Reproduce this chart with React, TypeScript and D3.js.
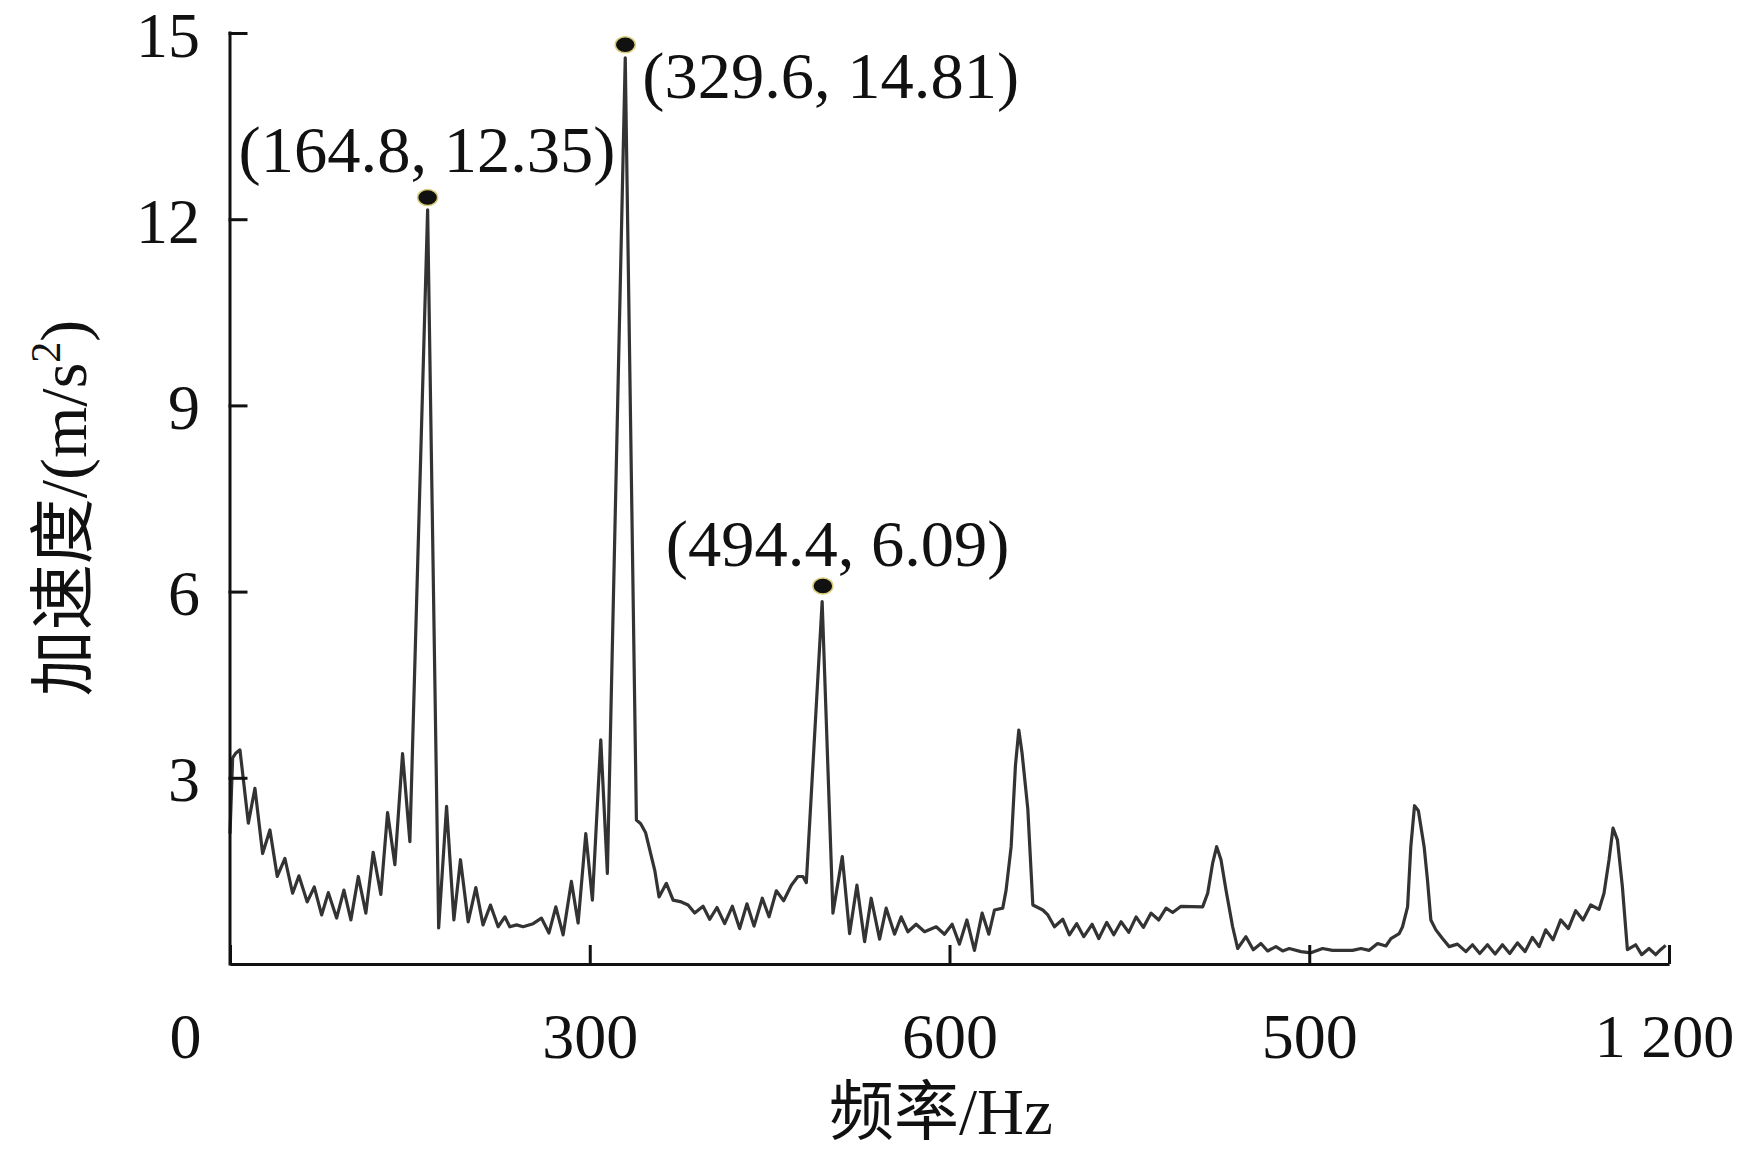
import React, { useRef, useEffect } from 'react';
import * as d3 from 'd3';

// ---- data ----
const freqHz: number[] = [
  0, 2.2, 5, 8.3, 15.3, 20.8, 27.2, 33.3, 39.4, 45.8, 52.2, 57.5, 64.4, 70.3, 76.4, 82.0, 88.9, 95.0,
  100.8, 107.0, 113.3, 119.4, 125.8, 131.4, 137.5, 143.9, 150.0,
  164.8, 174.0,
  180.6, 186.7, 192.2, 198.6, 205.0, 211.0, 217.2, 223.6, 229.2, 233.3, 239, 244.4, 252.8, 259.7,
  266.0, 271.7, 277.8, 284.7, 290.3, 296.7, 302.2, 309.2, 314.7,
  329.6, 338.9,
  342.5, 346.5, 354.2, 357.8, 363.9, 369.5, 376.4, 382, 387.5, 394.5, 400, 406.1, 412.5, 418.9, 425,
  431.1, 437, 443.9, 449.5, 455.6, 461.7, 468.1, 473.6, 477.8, 480.6,
  493.8, 502.8,
  510.6, 516.7, 522.8, 529.2, 534.7, 541.7, 547.2, 554.2, 559.7, 565.3, 572.2, 579.2, 588.9, 595.8,
  602.2, 608.3, 614.5, 620.8, 627.2, 632.8, 637.5, 644.4, 647.2, 651.4,
  655, 657.8, 660.5, 665.3, 669.5,
  677.8, 682, 687.5, 694.5, 700, 706.1, 712, 718.9, 724.5, 731.1, 737, 743.1, 749.5, 755.6, 761.7,
  768.1, 774.5, 780.6, 786.1, 793.1, 811.1,
  815.3, 819.4, 822.8, 826.4, 830.6, 836.1, 840.3,
  847.2, 853.3, 859.7, 865.3, 872.2, 877.8, 883.3, 893.1, 901.4, 911.1, 919.4, 936.1, 943.1, 950,
  957, 963.9, 968.1, 975, 977.8, 982, 984.7,
  987.8, 991, 995.8, 998.6, 1001.4,
  1005.6, 1011.1, 1016.7, 1023.6, 1030.6, 1036.1, 1042.2, 1048.6, 1055, 1061.1, 1067.2, 1073.6,
  1080, 1086.1, 1091.7, 1097.2, 1103.3, 1109.7, 1116.1, 1122.2, 1128.3, 1134.7, 1141.7, 1145.8, 1150,
  1153.3, 1157, 1161.1, 1165.3,
  1172.2, 1177.2, 1183.3, 1188.9, 1193, 1197.2,
];

const accel: number[] = [
  2.10, 3.32, 3.40, 3.45, 2.27, 2.83, 1.78, 2.16, 1.41, 1.70, 1.14, 1.42, 1.00, 1.24, 0.79, 1.15, 0.74, 1.19,
  0.71, 1.41, 0.82, 1.80, 1.12, 2.44, 1.60, 3.39, 1.97,
  12.15, 0.58,
  2.54, 0.71, 1.68, 0.68, 1.23, 0.63, 0.95, 0.60, 0.76, 0.60, 0.63, 0.60, 0.65, 0.74,
  0.50, 0.92, 0.47, 1.33, 0.66, 2.10, 1.03, 3.61, 1.46,
  14.6, 2.32,
  2.26, 2.12, 1.51, 1.08, 1.30, 1.03, 1.00, 0.95, 0.82, 0.93, 0.72, 0.91, 0.65, 0.93, 0.57,
  0.97, 0.61, 1.06, 0.76, 1.18, 1.02, 1.27, 1.41, 1.41, 1.31,
  5.84, 0.82,
  1.73, 0.49, 1.27, 0.36, 1.06, 0.40, 0.90, 0.48, 0.76, 0.52, 0.64, 0.52, 0.60, 0.48,
  0.64, 0.32, 0.71, 0.22, 0.82, 0.48, 0.87, 0.90, 1.19, 1.89,
  3.2, 3.77, 3.4, 2.5, 0.95,
  0.87, 0.79, 0.60, 0.72, 0.47, 0.65, 0.44, 0.64, 0.41, 0.67, 0.47, 0.68, 0.51, 0.76, 0.59,
  0.82, 0.71, 0.90, 0.83, 0.93, 0.92,
  1.14, 1.62, 1.89, 1.68, 1.19, 0.60, 0.25,
  0.44, 0.23, 0.33, 0.21, 0.28, 0.21, 0.25, 0.20, 0.18, 0.25, 0.22, 0.22, 0.25, 0.22,
  0.33, 0.29, 0.41, 0.49, 0.60, 0.92, 1.89,
  2.55, 2.47, 1.89, 1.35, 0.71,
  0.55, 0.41, 0.28, 0.32, 0.20, 0.31, 0.17, 0.31, 0.16, 0.31, 0.17, 0.34,
  0.20, 0.43, 0.28, 0.55, 0.39, 0.71, 0.57, 0.86, 0.71, 0.95, 0.88, 1.14, 1.68,
  2.19, 2.00, 1.25, 0.23,
  0.31, 0.15, 0.25, 0.15, 0.23, 0.30,
];

const yTickValues: number[] = [3, 6, 9, 12, 15];
const xTickValues: number[] = [0, 300, 600, 900, 1200];
const xTickLabels: string[] = ['0', '300', '600', '500', '1 200'];

const peakFreq: number[] = [164.8, 329.6, 494.4];
const peakAccel: number[] = [12.35, 14.81, 6.09];
const peakLabels: string[] = ['(164.8, 12.35)', '(329.6, 14.81)', '(494.4, 6.09)'];

// layout of the peak labels relative to their dots (px)
const peakLabelOffset: [number, number][] = [[-189, -25], [17, 53], [-157, -20]];

const FONT = "'Liberation Serif', 'Times New Roman', 'Noto Sans CJK SC', serif";

export default function App() {
  const ref = useRef<SVGSVGElement | null>(null);

  useEffect(() => {
    const W = 1741;
    const H = 1156;
    const svg = d3.select(ref.current as SVGSVGElement);
    svg.selectAll('*').remove();

    const x = d3.scaleLinear().domain([0, 1200]).range([230, 1669]);
    const y = d3.scaleLinear().domain([0, 15]).range([964, 33]);

    svg.append('rect').attr('width', W).attr('height', H).attr('fill', '#ffffff');

    // spectrum line
    const pts: [number, number][] = freqHz.map((f, i) => [f, accel[i]]);
    const line = d3
      .line<[number, number]>()
      .x((d) => x(d[0]))
      .y((d) => y(d[1]));
    svg
      .append('path')
      .datum(pts)
      .attr('d', line)
      .attr('fill', 'none')
      .attr('stroke', '#333333')
      .attr('stroke-width', 3.2)
      .attr('stroke-linejoin', 'round');

    // x axis
    const gx = svg
      .append('g')
      .attr('transform', 'translate(0,964)')
      .call(
        d3
          .axisBottom(x)
          .tickValues(xTickValues)
          .tickFormat((_d, i) => xTickLabels[i])
          .tickSizeInner(-19)
          .tickSizeOuter(0)
          .tickPadding(49)
      );
    gx.selectAll('path, line').attr('stroke', '#111').attr('stroke-width', 3);
    gx.selectAll('text')
      .attr('font-size', 64)
      .attr('font-family', FONT)
      .attr('fill', '#111');
    gx.selectAll('.tick')
      .filter((d) => d === 0)
      .select('text')
      .attr('x', -45);
    gx.selectAll('.tick')
      .filter((d) => d === 1200)
      .select('text')
      .attr('x', -5)
      .attr('font-size', 62);

    // y axis
    const gy = svg
      .append('g')
      .attr('transform', 'translate(230,0)')
      .call(
        d3
          .axisLeft(y)
          .tickValues(yTickValues)
          .tickSizeInner(-16)
          .tickSizeOuter(0)
          .tickPadding(30)
      );
    gy.select('.domain').attr('d', `M0,${y(0)}V${y(15)}`);
    gy.selectAll('path, line').attr('stroke', '#111').attr('stroke-width', 3).attr('stroke-linecap', 'square');
    gy.selectAll('text')
      .attr('font-size', 64)
      .attr('font-family', FONT)
      .attr('fill', '#111')
      .attr('dy', '0.36em');

    // peak markers
    svg
      .selectAll('ellipse.peak')
      .data(peakFreq)
      .join('ellipse')
      .attr('class', 'peak')
      .attr('cx', (d) => x(d))
      .attr('cy', (_d, i) => y(peakAccel[i]))
      .attr('rx', 10)
      .attr('ry', 8)
      .attr('fill', '#111')
      .attr('stroke', '#d8cd78')
      .attr('stroke-width', 1.5);

    svg
      .selectAll('text.peaklabel')
      .data(peakFreq)
      .join('text')
      .attr('class', 'peaklabel')
      .attr('x', (d, i) => x(d) + peakLabelOffset[i][0])
      .attr('y', (_d, i) => y(peakAccel[i]) + peakLabelOffset[i][1])
      .attr('font-size', 66.5)
      .attr('font-family', FONT)
      .attr('fill', '#111')
      .text((_d, i) => peakLabels[i]);

    // axis titles
    svg
      .append('text')
      .attr('x', 941)
      .attr('y', 1134)
      .attr('text-anchor', 'middle')
      .attr('font-size', 65)
      .attr('font-family', FONT)
      .attr('fill', '#111')
      .text('频率/Hz');

    const yt = svg
      .append('text')
      .attr('transform', 'translate(86,508) rotate(-90)')
      .attr('text-anchor', 'middle')
      .attr('font-size', 66)
      .attr('font-family', FONT)
      .attr('fill', '#111');
    yt.append('tspan').text('加速度/(m/s');
    yt.append('tspan').attr('font-size', 42).attr('dy', -26).text('2');
    yt.append('tspan').attr('dy', 26).text(')');
  }, []);

  return (
    <svg
      ref={ref}
      width={1741}
      height={1156}
      style={{ position: 'absolute', left: 0, top: 0, display: 'block' }}
    />
  );
}
